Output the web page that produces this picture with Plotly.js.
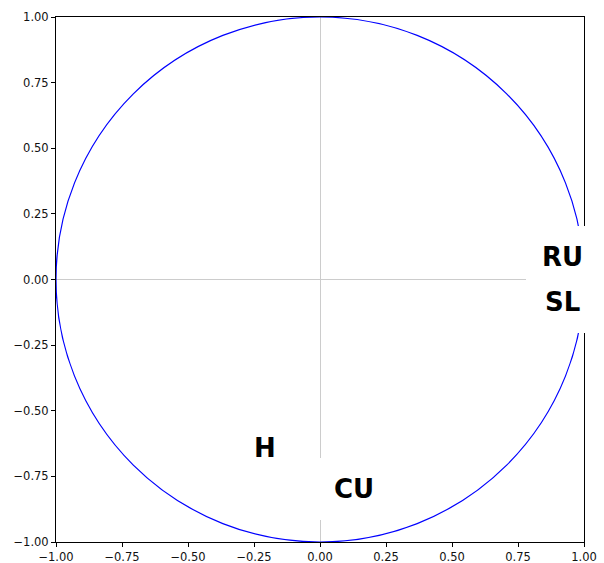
<!DOCTYPE html>
<html>
<head>
<meta charset="utf-8">
<script src="https://cdn.plot.ly/plotly-3.0.1.min.js"></script>
<style>html,body{margin:0;padding:0;background:#fff;}#chart{width:604px;height:563px;}</style>
</head>
<body>
<div id="chart"></div>
<script>
// Variable labels and their positions
const labels = ["RU", "SL", "H", "CU"];
const labelX = [0.918, 0.918, -0.208, 0.129];
const labelY = [0.084, -0.084, -0.640, -0.798];
// Unit circle extent
const circleMin = -1;
const circleMax = 1;
const tickVals = [-1, -0.75, -0.5, -0.25, 0, 0.25, 0.5, 0.75, 1];

const annotations = labels.map((t, i) => ({
  x: labelX[i], y: labelY[i], xref: 'x', yref: 'y',
  text: '<b>' + t + '</b>', showarrow: false,
  xanchor: 'center', yanchor: 'middle',
  font: {family: 'DejaVu Sans', size: 26, color: '#000'},
  bgcolor: '#ffffff', borderpad: 16, borderwidth: 0
}));

const axisCommon = {
  range: [-1, 1], autorange: false,
  tickvals: tickVals, tickformat: '.2f',
  ticks: 'outside', ticklen: 4, tickwidth: 1, tickcolor: '#000',
  showline: true, linecolor: '#000', linewidth: 1, mirror: true,
  showgrid: false,
  zeroline: true, zerolinecolor: '#cccccc', zerolinewidth: 1,
  tickfont: {family: 'DejaVu Sans', size: 11.5, color: '#111'}
};

const layout = {
  width: 604, height: 563,
  margin: {l: 56, r: 20, t: 17, b: 21},
  paper_bgcolor: '#fff', plot_bgcolor: '#fff',
  showlegend: false,
  xaxis: Object.assign({}, axisCommon),
  yaxis: Object.assign({}, axisCommon),
  shapes: [{
    type: 'circle', xref: 'x', yref: 'y',
    x0: circleMin, y0: circleMin, x1: circleMax, y1: circleMax,
    line: {color: '#0000ff', width: 1.2}
  }],
  annotations: annotations
};

Plotly.newPlot('chart', [{x: [], y: [], type: 'scatter', mode: 'lines'}], layout, {displayModeBar: false, staticPlot: true});
</script>
</body>
</html>
